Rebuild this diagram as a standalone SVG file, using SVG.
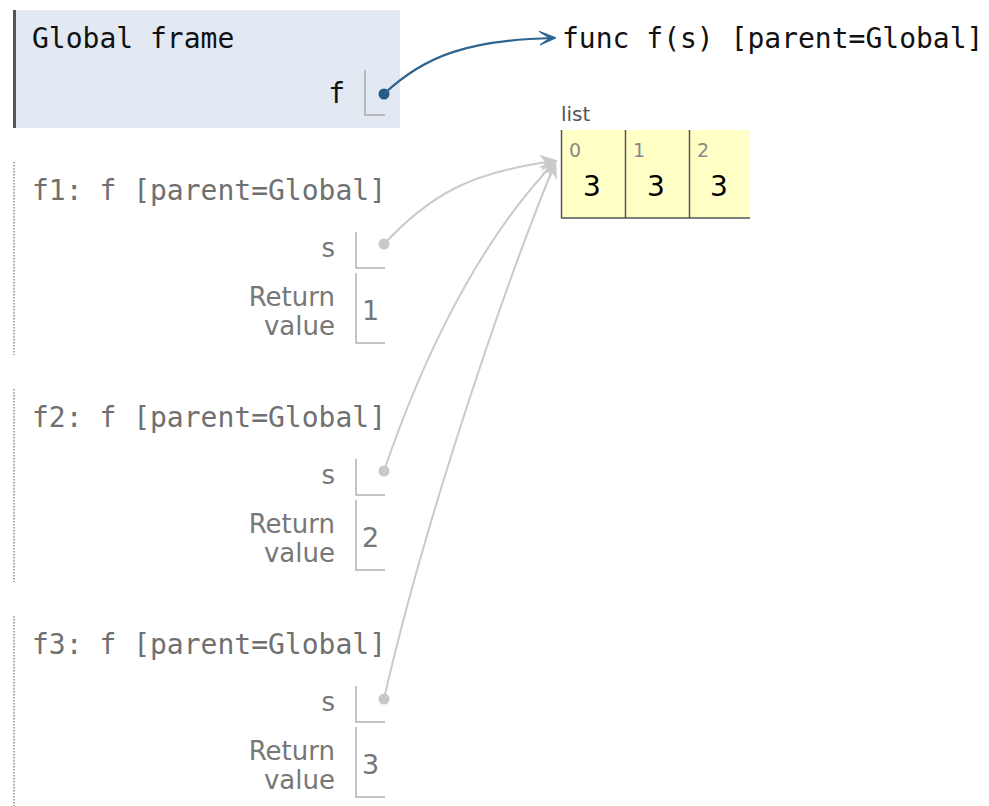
<svg xmlns="http://www.w3.org/2000/svg" width="989" height="806" viewBox="0 0 989 806">
<defs>
<style>
.mono{font-family:"DejaVu Sans Mono","Liberation Mono",monospace;font-size:28px}
.sans{font-family:"DejaVu Sans","Liberation Sans",sans-serif}
.title{fill:#707070}
.lbl{font-size:26px;fill:#777;text-anchor:end}
.val{font-size:27px;fill:#777}
.fl{stroke:#b0b0b0;stroke-width:1.5;fill:none}
.gl{stroke:#a8a8a8;stroke-width:1.5;fill:none}
.dot{fill:#c8c8c8}
.dborder{stroke:#aaa;stroke-width:2;stroke-dasharray:1.5 1.5}
.garrow{stroke:#cacaca;stroke-width:2;fill:none;marker-end:url(#gh)}
.barrow{stroke:#2e6590;stroke-width:2.2;fill:none;marker-end:url(#bh)}
.cell{fill:#ffffc6}
.cb{stroke:#555;stroke-width:1.5}
.idx{font-size:19px;fill:#888}
.lv{font-size:28px;fill:#000}
</style>
<marker id="gh" viewBox="0 0 12 12" refX="10" refY="6" markerWidth="18" markerHeight="18" markerUnits="userSpaceOnUse" orient="auto">
<path d="M0,0.5 L12,6 L0,11.5 L3.5,6 Z" fill="#cacaca"/>
</marker>
<marker id="bh" viewBox="0 0 12 12" refX="10" refY="6" markerWidth="16" markerHeight="16" markerUnits="userSpaceOnUse" orient="auto">
<path d="M0,1 L12,6 L0,11 L8,6 Z" fill="#2e6590" stroke="#2e6590" stroke-width="1" stroke-linejoin="round"/>
</marker>
</defs>
<rect width="989" height="806" fill="#fff"/>

<g id="global-frame">
<rect x="14" y="10" width="386" height="118" fill="#e2e9f3"/>
<rect x="13" y="10" width="3" height="118" fill="#555"/>
<text class="mono" x="32" y="48" fill="#111">Global frame</text>
<text class="mono" x="345" y="103" fill="#111" text-anchor="end">f</text>
<path class="gl" d="M365,70 V115 H385"/>
<circle cx="384" cy="94" r="5.5" fill="#245a86"/>
</g>

<g id="func-object">
<text class="mono" x="562" y="48" fill="#111">func f(s) [parent=Global]</text>
</g>

<g id="list-object">
<text class="sans" x="561" y="121" font-size="20" fill="#555">list</text>
<rect class="cell" x="561" y="130" width="189" height="88"/>
<line class="cb" x1="561.5" y1="130" x2="561.5" y2="218"/>
<line class="cb" x1="625.5" y1="130" x2="625.5" y2="218"/>
<line class="cb" x1="689.5" y1="130" x2="689.5" y2="218"/>
<line class="cb" x1="561" y1="218" x2="750" y2="218"/>
<text class="sans idx" x="569" y="157">0</text>
<text class="sans idx" x="633" y="157">1</text>
<text class="sans idx" x="697" y="157">2</text>
<text class="sans lv" x="583" y="196">3</text>
<text class="sans lv" x="647" y="196">3</text>
<text class="sans lv" x="710" y="196">3</text>
</g>

<g id="frame-f1">
<line class="dborder" x1="14" y1="162" x2="14" y2="355"/>
<text class="mono title" x="32" y="200">f1: f [parent=Global]</text>
<text class="sans lbl" x="335" y="257">s</text>
<path class="fl" d="M356,232 V268 H385"/>
<circle class="dot" cx="384" cy="244" r="5.5"/>
<text class="sans lbl" x="335" y="306">Return</text>
<text class="sans lbl" x="335" y="335">value</text>
<path class="fl" d="M356,273 V343 H385"/>
<text class="sans val" x="362" y="320">1</text>
</g>

<g id="frame-f2">
<line class="dborder" x1="14" y1="389" x2="14" y2="582"/>
<text class="mono title" x="32" y="427">f2: f [parent=Global]</text>
<text class="sans lbl" x="335" y="484">s</text>
<path class="fl" d="M356,459 V495 H385"/>
<circle class="dot" cx="384" cy="471" r="5.5"/>
<text class="sans lbl" x="335" y="533">Return</text>
<text class="sans lbl" x="335" y="562">value</text>
<path class="fl" d="M356,500 V570 H385"/>
<text class="sans val" x="362" y="547">2</text>
</g>

<g id="frame-f3">
<line class="dborder" x1="14" y1="616" x2="14" y2="806"/>
<text class="mono title" x="32" y="654">f3: f [parent=Global]</text>
<text class="sans lbl" x="335" y="711">s</text>
<path class="fl" d="M356,686 V722 H385"/>
<circle class="dot" cx="384" cy="699" r="5.5"/>
<text class="sans lbl" x="335" y="760">Return</text>
<text class="sans lbl" x="335" y="789">value</text>
<path class="fl" d="M356,727 V797 H385"/>
<text class="sans val" x="362" y="774">3</text>
</g>

<g id="connectors">
<path class="barrow" d="M384,94 C425,55 470,40 553,38"/>
<path class="garrow" d="M384,244 C430,195 470,172 555,161"/>
<path class="garrow" d="M384,471 C415,380 470,250 555,162"/>
<path class="garrow" d="M384,699 C420,540 495,310 555,163"/>
</g>
</svg>
